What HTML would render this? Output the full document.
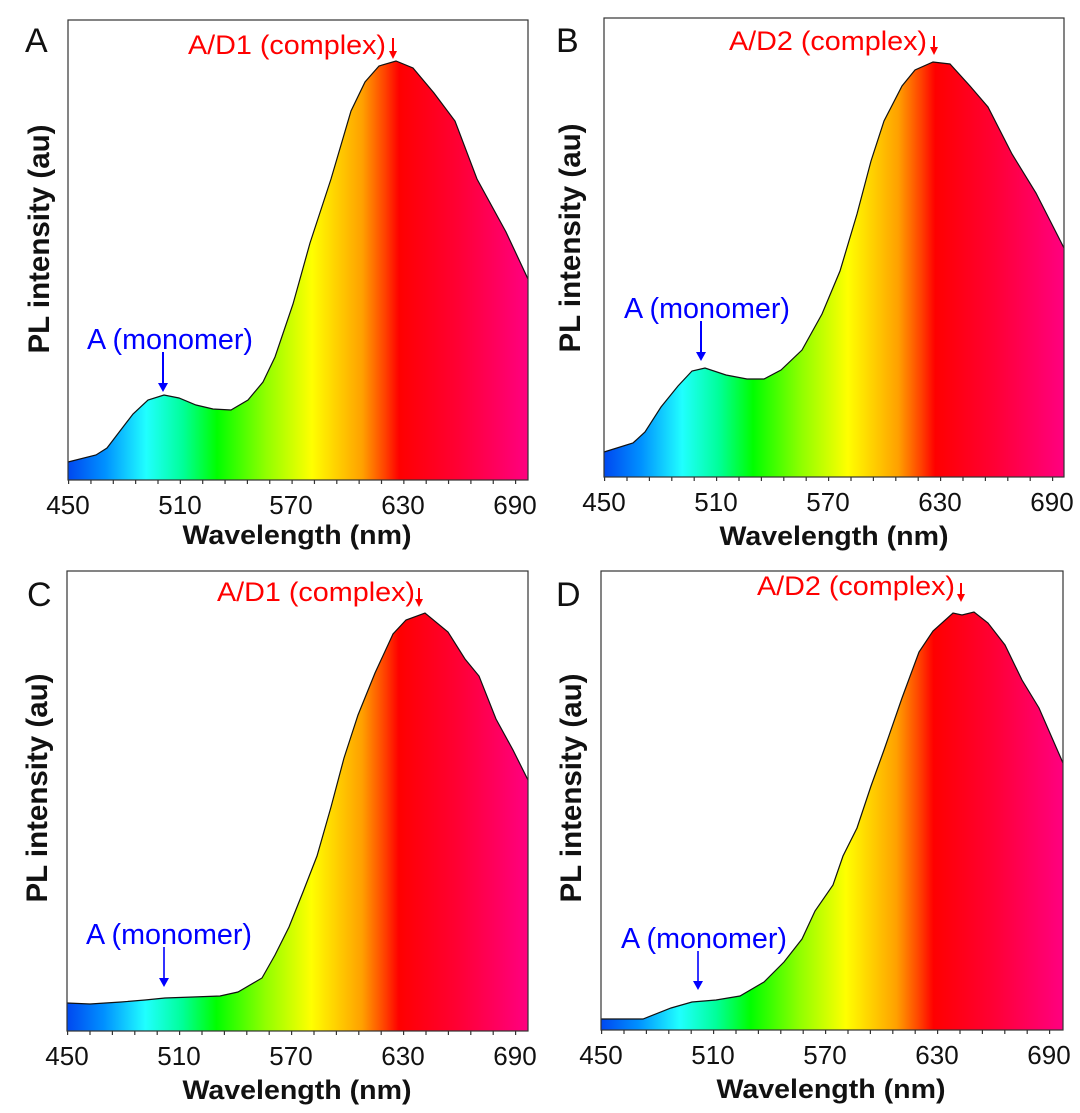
<!DOCTYPE html>
<html><head><meta charset="utf-8"><style>
html,body{margin:0;padding:0;background:#fff;}
svg{display:block;}
text{font-family:"Liberation Sans",Arial,sans-serif;}
</style></head><body>
<svg width="1080" height="1113" viewBox="0 0 1080 1113" xmlns="http://www.w3.org/2000/svg">
<defs>
<linearGradient id="sp" x1="0" y1="0" x2="1" y2="0">
<stop offset="0" stop-color="#0048f0"/>
<stop offset="0.08" stop-color="#0090ff"/>
<stop offset="0.17" stop-color="#20ffff"/>
<stop offset="0.25" stop-color="#00ff99"/>
<stop offset="0.324" stop-color="#00ff00"/>
<stop offset="0.43" stop-color="#90ff00"/>
<stop offset="0.53" stop-color="#ffff00"/>
<stop offset="0.64" stop-color="#ffa000"/>
<stop offset="0.69" stop-color="#ff4000"/>
<stop offset="0.72" stop-color="#ff0000"/>
<stop offset="0.85" stop-color="#ff0035"/>
<stop offset="1" stop-color="#ff0080"/>
</linearGradient>
</defs>

<!-- Panel A -->
<path d="M68,480 L68,462 L96,455 L107,448 L133,414 L148,400 L164,395 L179,398 L196,405 L213,409 L231,410 L248,400 L263,382 L275,357 L293,304 L310,243 L331,179 L351,111 L365,82 L379,66 L396,61 L413,68 L434,93 L455,121 L477,179 L506,232 L528,279 L528,480 Z" fill="url(#sp)"/>
<polyline points="68,462 96,455 107,448 133,414 148,400 164,395 179,398 196,405 213,409 231,410 248,400 263,382 275,357 293,304 310,243 331,179 351,111 365,82 379,66 396,61 413,68 434,93 455,121 477,179 506,232 528,279" fill="none" stroke="#111" stroke-width="1.2"/>
<rect x="68" y="20" width="460" height="460" fill="none" stroke="#333" stroke-width="1.2"/>
<line x1="68" y1="482" x2="528" y2="482" stroke="#333" stroke-width="4" stroke-dasharray="1.2 21.15"/>
<g font-size="26" fill="#111" text-anchor="middle">
<text x="68" y="514">450</text><text x="180" y="514">510</text><text x="291" y="514">570</text><text x="403" y="514">630</text><text x="515" y="514">690</text>
</g>
<text x="297" y="544" font-size="27" font-weight="bold" text-anchor="middle" textLength="229" lengthAdjust="spacingAndGlyphs" fill="#111">Wavelength (nm)</text>
<text transform="translate(49,239) rotate(-90)" font-size="30" font-weight="bold" text-anchor="middle" textLength="229" lengthAdjust="spacingAndGlyphs" fill="#111">PL intensity (au)</text>
<text x="25" y="52" font-size="34" fill="#111">A</text>
<text x="188" y="54" font-size="27" fill="#ff0000" textLength="198" lengthAdjust="spacingAndGlyphs">A/D1 (complex)</text>
<line x1="393" y1="38" x2="393" y2="52" stroke="#ff0000" stroke-width="2"/><path d="M389,51 L397,51 L393,59 Z" fill="#ff0000"/>
<text x="87" y="349" font-size="29" fill="#0000ff" textLength="166" lengthAdjust="spacingAndGlyphs">A (monomer)</text>
<line x1="163" y1="352" x2="163" y2="384" stroke="#0000ff" stroke-width="2"/><path d="M158,383 L168,383 L163,392 Z" fill="#0000ff"/>

<!-- Panel B -->
<path d="M604,477 L604,452 L633,443 L645,432 L661,407 L678,386 L692,371 L705,368 L726,375 L747,379 L764,379 L781,370 L802,350 L822,314 L840,271 L857,214 L871,161 L884,121 L902,86 L915,70 L933,62 L950,64 L970,86 L988,107 L1012,154 L1036,193 L1064,248 L1064,477 Z" fill="url(#sp)"/>
<polyline points="604,452 633,443 645,432 661,407 678,386 692,371 705,368 726,375 747,379 764,379 781,370 802,350 822,314 840,271 857,214 871,161 884,121 902,86 915,70 933,62 950,64 970,86 988,107 1012,154 1036,193 1064,248" fill="none" stroke="#111" stroke-width="1.2"/>
<rect x="604" y="18" width="460" height="459" fill="none" stroke="#333" stroke-width="1.2"/>
<line x1="604" y1="479" x2="1064" y2="479" stroke="#333" stroke-width="4" stroke-dasharray="1.2 21.2"/>
<g font-size="26" fill="#111" text-anchor="middle">
<text x="604" y="511">450</text><text x="716" y="511">510</text><text x="828" y="511">570</text><text x="940" y="511">630</text><text x="1052" y="511">690</text>
</g>
<text x="834" y="545" font-size="27" font-weight="bold" text-anchor="middle" textLength="229" lengthAdjust="spacingAndGlyphs" fill="#111">Wavelength (nm)</text>
<text transform="translate(580,238) rotate(-90)" font-size="30" font-weight="bold" text-anchor="middle" textLength="229" lengthAdjust="spacingAndGlyphs" fill="#111">PL intensity (au)</text>
<text x="556" y="52" font-size="34" fill="#111">B</text>
<text x="729" y="50" font-size="27" fill="#ff0000" textLength="198" lengthAdjust="spacingAndGlyphs">A/D2 (complex)</text>
<line x1="934" y1="36" x2="934" y2="48" stroke="#ff0000" stroke-width="2"/><path d="M930,47 L938,47 L934,55 Z" fill="#ff0000"/>
<text x="624" y="318" font-size="29" fill="#0000ff" textLength="166" lengthAdjust="spacingAndGlyphs">A (monomer)</text>
<line x1="701" y1="321" x2="701" y2="353" stroke="#0000ff" stroke-width="2"/><path d="M696,352 L706,352 L701,361 Z" fill="#0000ff"/>

<!-- Panel C -->
<path d="M67,1031 L67,1003 L90,1004 L121,1002 L145,1000 L165,998 L193,997 L220,996 L238,992 L262,978 L275,955 L289,927 L303,892 L317,856 L331,807 L344,758 L358,715 L375,673 L393,634 L406,620 L425,613 L448,632 L465,659 L479,676 L496,719 L513,750 L528,780 L528,1031 Z" fill="url(#sp)"/>
<polyline points="67,1003 90,1004 121,1002 145,1000 165,998 193,997 220,996 238,992 262,978 275,955 289,927 303,892 317,856 331,807 344,758 358,715 375,673 393,634 406,620 425,613 448,632 465,659 479,676 496,719 513,750 528,780" fill="none" stroke="#111" stroke-width="1.2"/>
<rect x="67" y="571" width="461" height="460" fill="none" stroke="#333" stroke-width="1.2"/>
<line x1="67" y1="1033" x2="528" y2="1033" stroke="#333" stroke-width="4" stroke-dasharray="1.2 21.2"/>
<g font-size="26" fill="#111" text-anchor="middle">
<text x="67" y="1065">450</text><text x="179" y="1065">510</text><text x="291" y="1065">570</text><text x="403" y="1065">630</text><text x="515" y="1065">690</text>
</g>
<text x="297" y="1099" font-size="27" font-weight="bold" text-anchor="middle" textLength="229" lengthAdjust="spacingAndGlyphs" fill="#111">Wavelength (nm)</text>
<text transform="translate(47,788) rotate(-90)" font-size="30" font-weight="bold" text-anchor="middle" textLength="229" lengthAdjust="spacingAndGlyphs" fill="#111">PL intensity (au)</text>
<text x="27" y="606" font-size="34" fill="#111">C</text>
<text x="217" y="601" font-size="27" fill="#ff0000" textLength="198" lengthAdjust="spacingAndGlyphs">A/D1 (complex)</text>
<line x1="419" y1="588" x2="419" y2="600" stroke="#ff0000" stroke-width="2"/><path d="M415,599 L423,599 L419,607 Z" fill="#ff0000"/>
<text x="86" y="944" font-size="29" fill="#0000ff" textLength="166" lengthAdjust="spacingAndGlyphs">A (monomer)</text>
<line x1="164" y1="947" x2="164" y2="979" stroke="#0000ff" stroke-width="1.6"/><path d="M159,978 L169,978 L164,987 Z" fill="#0000ff"/>

<!-- Panel D -->
<path d="M601,1030 L601,1019 L643,1019 L671,1008 L692,1002 L716,1000 L740,996 L764,982 L784,962 L802,939 L815,911 L833,885 L843,856 L857,828 L871,786 L884,750 L902,698 L919,652 L933,631 L953,613 L962,615 L974,612 L988,623 L1005,645 L1022,680 L1039,708 L1063,763 L1063,1030 Z" fill="url(#sp)"/>
<polyline points="601,1019 643,1019 671,1008 692,1002 716,1000 740,996 764,982 784,962 802,939 815,911 833,885 843,856 857,828 871,786 884,750 902,698 919,652 933,631 953,613 962,615 974,612 988,623 1005,645 1022,680 1039,708 1063,763" fill="none" stroke="#111" stroke-width="1.2"/>
<rect x="601" y="571" width="462" height="459" fill="none" stroke="#333" stroke-width="1.2"/>
<line x1="601" y1="1032" x2="1063" y2="1032" stroke="#333" stroke-width="4" stroke-dasharray="1.2 21.2"/>
<g font-size="26" fill="#111" text-anchor="middle">
<text x="601" y="1064">450</text><text x="713" y="1064">510</text><text x="825" y="1064">570</text><text x="937" y="1064">630</text><text x="1049" y="1064">690</text>
</g>
<text x="831" y="1098" font-size="27" font-weight="bold" text-anchor="middle" textLength="229" lengthAdjust="spacingAndGlyphs" fill="#111">Wavelength (nm)</text>
<text transform="translate(581,788) rotate(-90)" font-size="30" font-weight="bold" text-anchor="middle" textLength="229" lengthAdjust="spacingAndGlyphs" fill="#111">PL intensity (au)</text>
<text x="556" y="606" font-size="34" fill="#111">D</text>
<text x="757" y="595" font-size="27" fill="#ff0000" textLength="198" lengthAdjust="spacingAndGlyphs">A/D2 (complex)</text>
<line x1="961" y1="583" x2="961" y2="595" stroke="#ff0000" stroke-width="2"/><path d="M957,594 L965,594 L961,602 Z" fill="#ff0000"/>
<text x="621" y="948" font-size="29" fill="#0000ff" textLength="166" lengthAdjust="spacingAndGlyphs">A (monomer)</text>
<line x1="698" y1="951" x2="698" y2="982" stroke="#0000ff" stroke-width="1.6"/><path d="M693,981 L703,981 L698,990 Z" fill="#0000ff"/>
</svg>
</body></html>
